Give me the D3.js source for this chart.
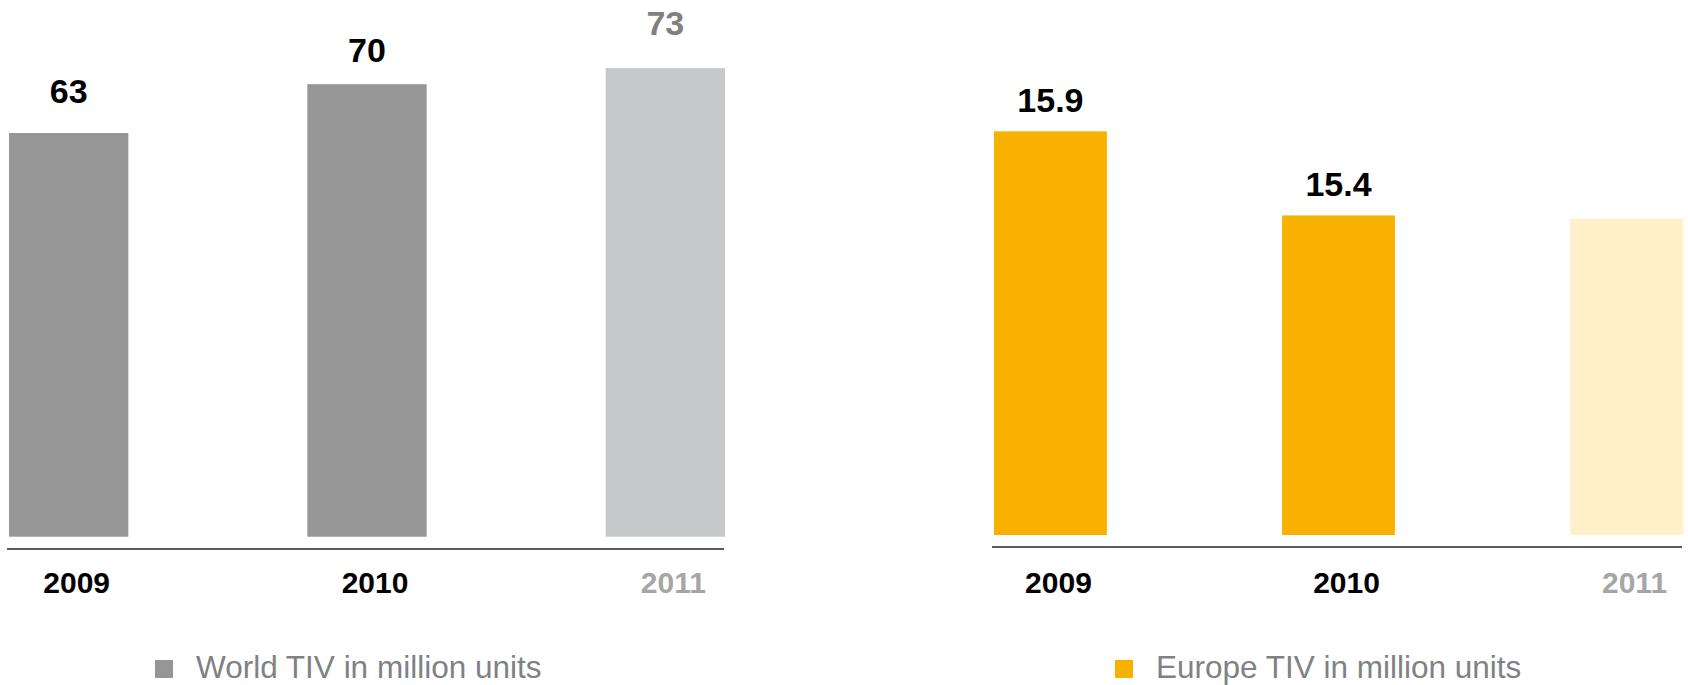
<!DOCTYPE html>
<html>
<head>
<meta charset="utf-8">
<script src="https://cdn.jsdelivr.net/npm/d3@7"></script>
<style>
  html, body { margin: 0; padding: 0; background: #fff; }
  svg { display: block; font-family: "Liberation Sans", Arial, sans-serif; }
</style>
</head>
<body>
<svg id="chart" width="1688" height="685"></svg>
<script>
// data
var years = ["2009", "2010", "2011"];
var worldValues = [62.8, 70.4, 72.9];
var worldLabels = ["63", "70", "73"];
var europeValues = [15.9, 15.4, 15.38];
var europeLabels = ["15.9", "15.4", ""];
var legendTexts = ["World TIV in million units", "Europe TIV in million units"];

var svg = d3.select("#chart");

var panels = [
  {
    values: worldValues, labels: worldLabels, legend: legendTexts[0],
    xRange: [9, 725], pad: 0.6,
    yDomain: [0, 80], yRange: [536.7, 22.5],
    lineY: 549, gaps: [30, 22, 33],
    barColors: ["#969696", "#969696", "#c7c8ca"],
    labelColors: ["#000", "#000", "#808080"],
    swatch: "#969696", legendX: 155
  },
  {
    values: europeValues, labels: europeLabels, legend: legendTexts[1],
    xRange: [994, 1683], pad: 0.608,
    yDomain: [13.5, 16.5], yRange: [535, 30.4],
    lineY: 547, gaps: [19, 19, 19],
    barColors: ["#f7b200", "#f7b200", "#fff0c9"],
    labelColors: ["#000", "#000", "#000"],
    swatch: "#f7b200", legendX: 1115
  }
];

var yearColors = ["#000", "#000", "#a6a6a6"];

panels.forEach(function (p) {
  var x = d3.scaleBand().domain(years).range(p.xRange).paddingInner(p.pad).paddingOuter(0);
  var y = d3.scaleLinear().domain(p.yDomain).range(p.yRange);
  var g = svg.append("g");

  g.selectAll("rect.bar")
    .data(p.values)
    .join("rect")
    .attr("class", "bar")
    .attr("x", function (d, i) { return x(years[i]); })
    .attr("width", x.bandwidth())
    .attr("y", function (d) { return y(d); })
    .attr("height", function (d) { return y(p.yDomain[0]) - y(d); })
    .attr("fill", function (d, i) { return p.barColors[i]; });

  g.selectAll("text.val")
    .data(p.values)
    .join("text")
    .attr("class", "val")
    .attr("x", function (d, i) { return x(years[i]) + x.bandwidth() / 2; })
    .attr("y", function (d, i) { return y(d) - p.gaps[i]; })
    .attr("text-anchor", "middle")
    .attr("font-size", 34)
    .attr("font-weight", "bold")
    .attr("fill", function (d, i) { return p.labelColors[i]; })
    .text(function (d, i) { return p.labels[i]; });

  // baseline
  g.append("line")
    .attr("x1", p.xRange[0] - 2).attr("x2", p.xRange[1] - 1)
    .attr("y1", p.lineY).attr("y2", p.lineY)
    .attr("stroke", "#262626")
    .attr("stroke-width", 1.5);

  g.selectAll("text.year")
    .data(years)
    .join("text")
    .attr("class", "year")
    .attr("x", function (d) { return x(d) + x.bandwidth() / 2 + 8; })
    .attr("y", 593)
    .attr("text-anchor", "middle")
    .attr("font-size", 30)
    .attr("font-weight", "bold")
    .attr("fill", function (d, i) { return yearColors[i]; })
    .text(function (d) { return d; });

  // legend
  g.append("rect")
    .attr("x", p.legendX).attr("y", 660)
    .attr("width", 18).attr("height", 18)
    .attr("fill", p.swatch);

  g.append("text")
    .attr("x", p.legendX + 41)
    .attr("y", 678)
    .attr("font-size", 31.5)
    .attr("fill", "#7f8185")
    .text(p.legend);
});
</script>
</body>
</html>
